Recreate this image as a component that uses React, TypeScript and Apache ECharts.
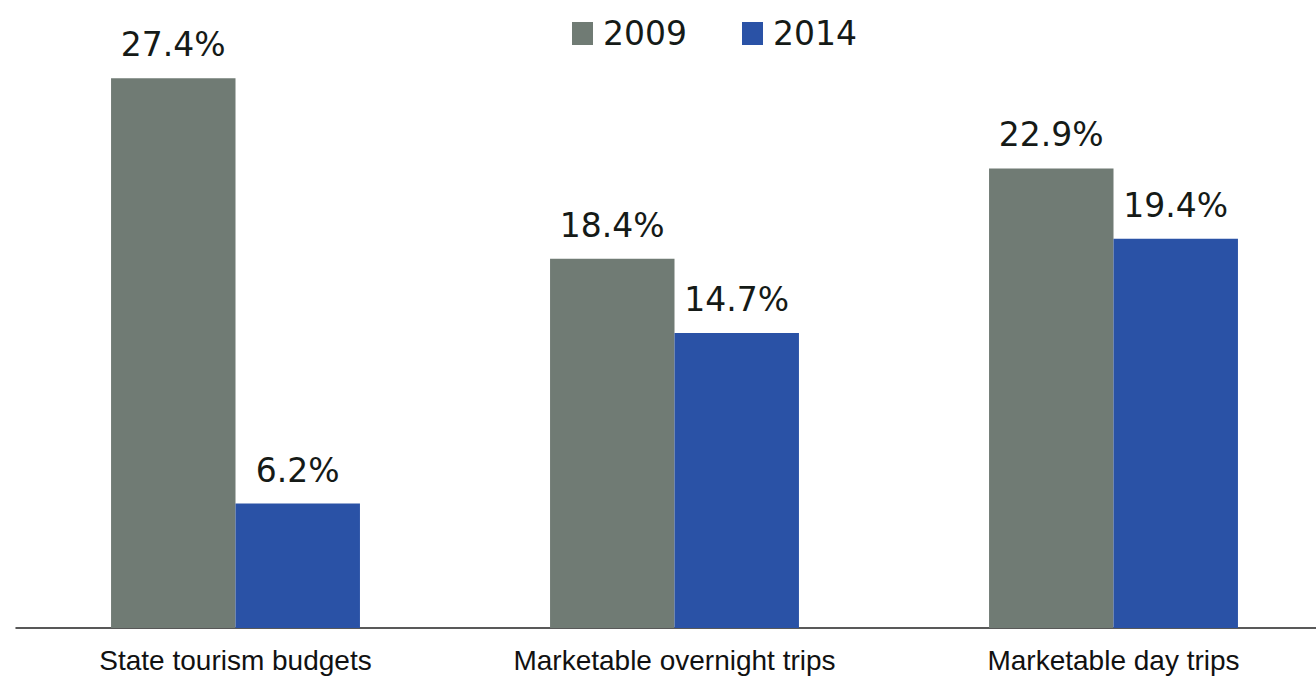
import React, { useEffect, useRef } from "react";
import * as echarts from "echarts";

const categories = ["State tourism budgets", "Marketable overnight trips", "Marketable day trips"];
const series2009 = [27.4, 18.4, 22.9];
const series2014 = [6.2, 14.7, 19.4];
const seriesNames = ["2009", "2014"];

export default function App() {
  const ref = useRef<HTMLDivElement>(null);
  useEffect(() => {
    document.body.style.margin = "0";
    const chart = echarts.init(ref.current!, null, { renderer: "svg" });
    const label = {
      show: true,
      position: "top",
      distance: 17,
      formatter: (p: any) => p.value.toFixed(1) + "%",
      fontFamily: "DejaVu Sans, sans-serif",
      fontSize: 33,
      color: "#151a17",
    };
    chart.setOption({
      animation: false,
      backgroundColor: "#ffffff",
      legend: {
        data: seriesNames,
        left: 567,
        top: 12,
        itemWidth: 21,
        itemHeight: 23,
        itemGap: 55,
        icon: "rect",
        textStyle: {
          fontFamily: "DejaVu Sans, sans-serif",
          fontSize: 33,
          color: "#151a17",
          padding: [0, 0, 0, 5],
        },
      },
      grid: { left: 16, top: 26, right: 0, height: 602 },
      xAxis: {
        type: "category",
        data: categories,
        axisLine: { show: true, lineStyle: { color: "#222", width: 1.5 } },
        axisTick: { show: false },
        axisLabel: {
          fontFamily: "Liberation Sans, Arial, sans-serif",
          fontSize: 28,
          color: "#111",
          margin: 18,
        },
      },
      yAxis: {
        type: "value",
        min: 0,
        max: 30,
        show: false,
        splitLine: { show: false },
      },
      series: [
        {
          name: seriesNames[0],
          type: "bar",
          data: series2009,
          barGap: "0%",
          barCategoryGap: "43.3%",
          itemStyle: { color: "#707b74" },
          label,
        },
        {
          name: seriesNames[1],
          type: "bar",
          data: series2014,
          barGap: "0%",
          barCategoryGap: "43.3%",
          itemStyle: { color: "#2a52a6" },
          label,
        },
      ],
    });
    return () => chart.dispose();
  }, []);
  return (
    <div style={{ width: 1316, height: 682, overflow: "hidden", position: "relative" }}>
      <div ref={ref} style={{ width: 1333, height: 682 }} />
    </div>
  );
}
